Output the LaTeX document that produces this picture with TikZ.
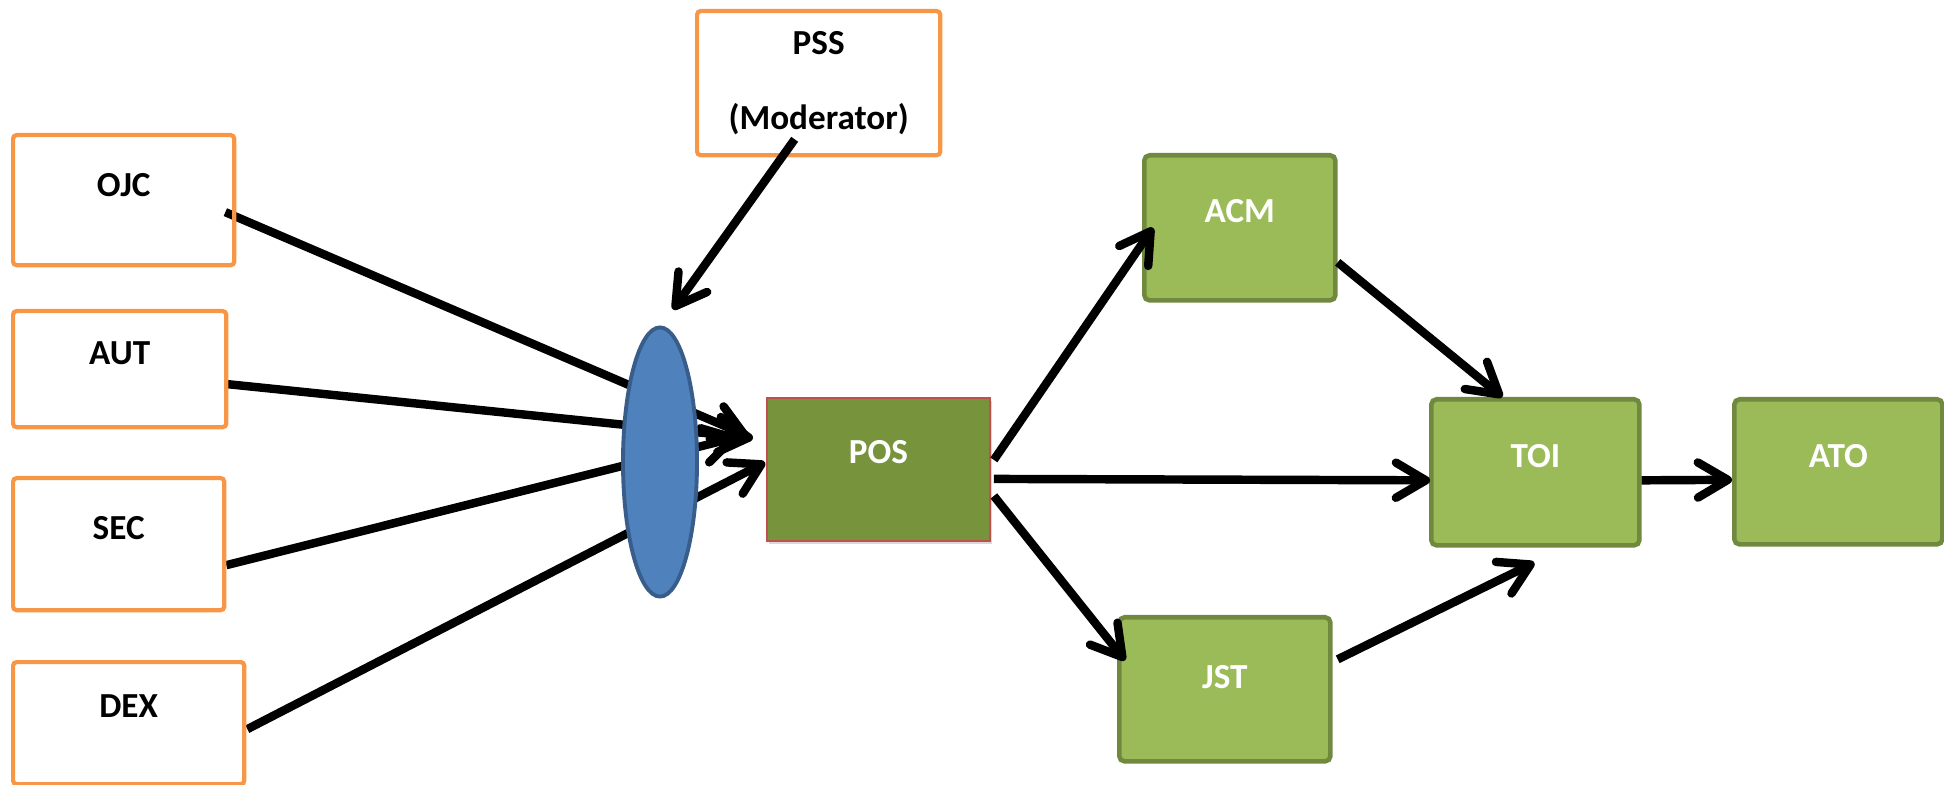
\documentclass[tikz,border=0pt]{standalone}
\usepackage{fontspec}
\setmainfont{Carlito}
\usetikzlibrary{arrows.meta,shapes.geometric,backgrounds,shadows}

\definecolor{boxorange}{HTML}{F79646}
\definecolor{greenfill}{HTML}{9BBB59}
\definecolor{greenline}{HTML}{71893F}
\definecolor{posfill}{HTML}{77933C}
\definecolor{posline}{HTML}{C0504D}
\definecolor{hubfill}{HTML}{4F81BD}
\definecolor{hubline}{HTML}{385D8A}

\begin{document}
\begin{tikzpicture}[x=0.01cm,y=-0.01cm,
        font=\fontsize{10}{12}\selectfont\bfseries,
        src/.style={draw=boxorange,line width=1.2pt,rounded corners=1pt,anchor=north west,inner sep=0pt},
        dst/.style={draw=greenline,fill=greenfill,text=white,line width=1.3pt,rounded corners=1.5pt,anchor=north west,inner sep=0pt},
        conn/.style={line width=2.4pt,-{Straight Barb[length=8.5pt,width=10pt,round]}}]
    \useasboundingbox (0,0) rectangle (1944,785);

    % sources on the left
    \node[src,minimum width=2.21cm,text height=0.61cm,text depth=0.69cm] (ojc) at (11,133) {OJC};
    \node[src,minimum width=2.13cm,text height=0.53cm,text depth=0.63cm] (aut) at (11,309) {AUT};
    \node[src,minimum width=2.11cm,text height=0.61cm,text depth=0.71cm] (sec) at (11,476) {SEC};
    \node[src,minimum width=2.31cm,text height=0.55cm,text depth=0.67cm] (dex) at (11,660) {DEX};
    \node[src,align=center,minimum width=2.43cm,minimum height=1.44cm] (pss) at (695,9) {PSS\\[9.2pt](Moderator)};

    % merge point
    \node[ellipse,draw=hubline,fill=hubfill,line width=1.1pt,minimum width=0.74cm,minimum height=2.69cm] (hub) at (660,462) {};

    % green boxes
    \node[dst,fill=posfill,draw=posline,line width=0.5pt,rounded corners=0pt,
          drop shadow={shadow xshift=0.6pt,shadow yshift=-1pt,opacity=0.3},
          minimum width=2.23cm,text height=0.66cm,text depth=0.77cm] (pos) at (766,397) {POS};
    \node[dst,minimum width=1.91cm,text height=0.67cm,text depth=0.78cm] (acm) at (1142,153) {ACM};
    \node[dst,minimum width=2.11cm,text height=0.71cm,text depth=0.73cm] (jst) at (1117,615) {JST};
    \node[dst,minimum width=2.08cm,text height=0.68cm,text depth=0.78cm] (toi) at (1429,397) {TOI};
    \node[dst,minimum width=2.08cm,text height=0.68cm,text depth=0.77cm] (ato) at (1732,397) {ATO};

    \coordinate (tipojc) at (748,436);
    \coordinate (tipaut) at (753,438);
    \coordinate (tipsec) at (738,437);

    % the inputs pass behind the ellipse
    \begin{scope}[on background layer]
        \draw[conn] ([shift={(-11,12)}]ojc.east) -- (tipojc);
        \draw[conn] ([shift={(-1,15)}]aut.east) -- (tipaut);
        \draw[conn] ([shift={(0,21)}]sec.east) -- (tipsec);
        \draw[conn] ([shift={(1,6)}]dex.east) -- ([shift={(-1,-7)}]pos.west);
    \end{scope}
    \draw[conn] ([shift={(-24,-18)}]pss.south) -- ([shift={(13,-16)}]hub.north);
    \draw[conn] ([shift={(3,-9.5)}]pos.east) -- ([shift={(11,0)}]acm.west);
    \draw[conn] ([shift={(3,9.5)}]pos.east) -- ([shift={(1,8)}]toi.west);
    \draw[conn] ([shift={(3,26.5)}]pos.east) -- ([shift={(8,-29)}]jst.west);
    \draw[conn] ([shift={(0,34.5)}]acm.east) -- ([shift={(-33,0)}]toi.north);
    \draw[conn] ([shift={(5,-30)}]jst.east) -- ([shift={(-1,15)}]toi.south);
    \draw[conn] ([shift={(0,8)}]toi.east) -- ([shift={(0,8)}]ato.west);
\end{tikzpicture}
\end{document}
